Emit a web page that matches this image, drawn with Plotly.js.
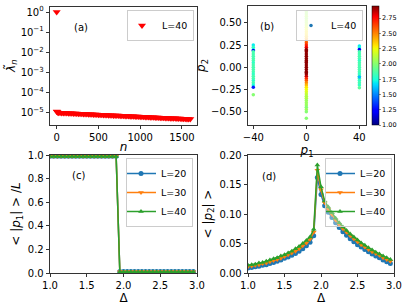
<!DOCTYPE html>
<html><head><meta charset="utf-8">
<script src="https://cdn.plot.ly/plotly-3.0.1.min.js"></script>
<style>html,body{margin:0;padding:0;background:#fff;}#plot{width:407px;height:306px;}</style>
</head><body><div id="plot"></div>
<script>
// ---------- panel (a) ----------
const nList = [0, 1, 5, 10, 20, 40, 60, 80, 100, 120, 140, 160, 180, 200, 220, 240, 260, 280, 300, 320, 340, 360, 380, 400,
  420, 440, 460, 480, 500, 520, 540, 560, 580, 600, 620, 640, 660, 680, 700, 720, 740, 760, 780, 800,
  820, 840, 860, 880, 900, 920, 940, 960, 980, 1000, 1020, 1040, 1060, 1080, 1100, 1120, 1140, 1160, 1180, 1200,
  1220, 1240, 1260, 1280, 1300, 1320, 1340, 1360, 1380, 1400, 1420, 1440, 1460, 1480, 1500, 1520, 1540, 1560, 1580, 1600];
const lambdaList = [1.0, 1.12e-5, 1.06e-5, 1.01e-5,
  9.60e-6, 9.51e-6, 9.42e-6, 9.34e-6, 9.25e-6, 9.17e-6, 9.08e-6, 9.00e-6, 8.92e-6, 8.83e-6,
  8.75e-6, 8.67e-6, 8.59e-6, 8.51e-6, 8.43e-6, 8.36e-6, 8.28e-6, 8.20e-6, 8.13e-6, 8.05e-6,
  7.98e-6, 7.91e-6, 7.83e-6, 7.76e-6, 7.69e-6, 7.62e-6, 7.55e-6, 7.48e-6, 7.41e-6, 7.34e-6,
  7.27e-6, 7.21e-6, 7.14e-6, 7.07e-6, 7.01e-6, 6.94e-6, 6.88e-6, 6.82e-6, 6.75e-6, 6.69e-6,
  6.63e-6, 6.57e-6, 6.51e-6, 6.45e-6, 6.39e-6, 6.33e-6, 6.27e-6, 6.21e-6, 6.16e-6, 6.10e-6,
  6.04e-6, 5.99e-6, 5.93e-6, 5.88e-6, 5.82e-6, 5.77e-6, 5.72e-6, 5.66e-6, 5.61e-6, 5.56e-6,
  5.51e-6, 5.46e-6, 5.41e-6, 5.36e-6, 5.31e-6, 5.26e-6, 5.21e-6, 5.16e-6, 5.12e-6, 5.07e-6,
  5.02e-6, 4.98e-6, 4.93e-6, 4.89e-6, 4.84e-6, 4.80e-6, 4.75e-6, 4.71e-6, 4.67e-6, 4.62e-6];
const logTickVals = [1, 0.1, 0.01, 0.001, 0.0001, 0.00001];
const logTickText = ['10<sup>0</sup>', '10<sup>−1</sup>', '10<sup>−2</sup>', '10<sup>−3</sup>', '10<sup>−4</sup>', '10<sup>−5</sup>'];

// ---------- panel (b) ----------
const p1Center = [0,0,0,0,0,0,0,0,0,0,0,0,0,0,0,0,0,0,0,0,0,0,0,0,0,0,0,0,0,0,0,0,0,0,0,0,0,0,0,0,0,0,0,0,0,0,0,0,0,0];
const p2Center = [0.625, 0.60, 0.575, 0.55, 0.525, 0.50, 0.475, 0.45, 0.425, 0.40, 0.375, 0.35, 0.325, 0.30, 0.275, 0.25,
  0.225, 0.20, 0.175, 0.15, 0.125, 0.10, 0.075, 0.05, 0.025, 0.0, -0.025, -0.05, -0.075, -0.10, -0.125, -0.15,
  -0.175, -0.20, -0.225, -0.25, -0.275, -0.30, -0.325, -0.35, -0.375, -0.40, -0.425, -0.45, -0.475, -0.50, -0.575,
  0.19, -0.06, 0.06];
const colorCenter = [2.05, 2.05, 2.1, 2.05, 2.1, 2.1, 2.15, 2.2, 2.25, 2.3, 2.3, 2.35, 2.4, 2.5, 2.6, 2.7,
  2.8, 2.9, 2.92, 2.93, 2.93, 2.93, 2.93, 2.93, 2.93, 2.93, 2.93, 2.93, 2.93, 2.85, 2.7, 2.6,
  2.5, 2.4, 2.3, 2.25, 2.2, 2.15, 2.1, 2.1, 2.05, 2.05, 2.05, 2.0, 2.05, 2.0, 2.0,
  2.93, 2.93, 2.93];
const p1Left = [-40,-40,-40,-40,-40,-40,-40,-40,-40,-40,-40,-40,-40,-40,-40,-40,-40,-40,-40,-40,-40,-40];
const p2Left = [0.25, 0.225, 0.20, 0.19, 0.175, 0.15, 0.125, 0.10, 0.075, 0.05, 0.025, 0.0, -0.025, -0.05, -0.075,
  -0.10, -0.125, -0.15, -0.175, -0.20, -0.225, -0.31];
const colorLeft = [1.7, 1.8, 1.75, 1.2, 1.85, 1.85, 1.85, 1.85, 1.85, 1.8, 1.85, 1.85, 1.85, 1.85, 1.8,
  1.85, 1.85, 1.8, 1.85, 1.75, 1.3, 2.0];
const p1Right = [40,40,40,40,40,40,40,40,40,40,40,40,40,40,40,40,40,40,40,40,40];
const p2Right = [0.24, 0.22, 0.20, 0.175, 0.15, 0.125, 0.10, 0.075, 0.05, 0.025, 0.0, -0.025, -0.05, -0.075,
  -0.10, -0.125, -0.15, -0.175, -0.20, -0.23, -0.11];
const colorRight = [1.7, 1.75, 1.2, 1.85, 1.85, 1.85, 1.85, 1.8, 1.85, 1.85, 1.85, 1.85, 1.85, 1.8,
  1.85, 1.85, 1.8, 1.85, 1.8, 1.9, 1.6];
const cbTickVals = [1.00, 1.25, 1.50, 1.75, 2.00, 2.25, 2.50, 2.75];

// ---------- panels (c), (d) ----------
const deltaList = [1.00, 1.05, 1.10, 1.15, 1.20, 1.25, 1.30, 1.35, 1.40, 1.45, 1.50, 1.55, 1.60, 1.65, 1.70, 1.75, 1.80, 1.85, 1.90, 1.95,
  2.00, 2.05, 2.10, 2.15, 2.20, 2.25, 2.30, 2.35, 2.40, 2.45, 2.50, 2.55, 2.60, 2.65, 2.70, 2.75, 2.80, 2.85, 2.90, 2.95];
const seriesNames = ['L=20', 'L=30', 'L=40'];
const p1L20 = [0.99, 0.99, 0.99, 0.99, 0.99, 0.99, 0.99, 0.99, 0.99, 0.99, 0.99, 0.99, 0.99, 0.99, 0.99, 0.99, 0.99, 0.99, 0.99,
  0.012, 0.012, 0.012, 0.012, 0.012, 0.012, 0.012, 0.012, 0.012, 0.012, 0.012, 0.012, 0.012, 0.012, 0.012, 0.012, 0.012, 0.012, 0.012, 0.012, 0.012, 0.012];
const p1L30 = [0.99, 0.99, 0.99, 0.99, 0.99, 0.99, 0.99, 0.99, 0.99, 0.99, 0.99, 0.99, 0.99, 0.99, 0.99, 0.99, 0.99, 0.99, 0.99,
  0.010, 0.010, 0.010, 0.010, 0.010, 0.010, 0.010, 0.010, 0.010, 0.010, 0.010, 0.010, 0.010, 0.010, 0.010, 0.010, 0.010, 0.010, 0.010, 0.010, 0.010, 0.010];
const p1L40 = [0.988, 0.988, 0.988, 0.988, 0.988, 0.988, 0.988, 0.988, 0.988, 0.988, 0.988, 0.988, 0.988, 0.988, 0.988, 0.988, 0.988, 0.988, 0.988,
  0.008, 0.008, 0.008, 0.008, 0.008, 0.008, 0.008, 0.008, 0.008, 0.008, 0.008, 0.008, 0.008, 0.008, 0.008, 0.008, 0.008, 0.008, 0.008, 0.008, 0.008, 0.008];
const p2L20 = [0.0085, 0.0095, 0.0105, 0.0115, 0.013, 0.014, 0.016, 0.018, 0.020, 0.022, 0.025, 0.027, 0.030, 0.033, 0.037, 0.041, 0.046, 0.052, 0.063, 0.162,
  0.133, 0.114, 0.103, 0.094, 0.085, 0.077, 0.070, 0.064, 0.058, 0.053, 0.048, 0.044, 0.040, 0.036, 0.032, 0.029, 0.026, 0.022, 0.019, 0.016];
const p2L30 = [0.011, 0.012, 0.013, 0.014, 0.016, 0.017, 0.019, 0.021, 0.023, 0.025, 0.028, 0.031, 0.034, 0.037, 0.041, 0.046, 0.051, 0.057, 0.069, 0.174,
  0.141, 0.119, 0.108, 0.099, 0.090, 0.082, 0.075, 0.069, 0.063, 0.058, 0.053, 0.048, 0.044, 0.040, 0.036, 0.033, 0.030, 0.026, 0.023, 0.020];
const p2L40 = [0.013, 0.014, 0.015, 0.017, 0.018, 0.020, 0.022, 0.024, 0.026, 0.029, 0.031, 0.034, 0.037, 0.041, 0.045, 0.050, 0.055, 0.061, 0.074, 0.183,
  0.146, 0.122, 0.112, 0.102, 0.093, 0.085, 0.078, 0.072, 0.066, 0.061, 0.056, 0.051, 0.047, 0.043, 0.039, 0.035, 0.032, 0.029, 0.026, 0.023];

const colors = ['#1f77b4', '#ff7f0e', '#2ca02c'];
const symbols = ['circle', 'triangle-down', 'triangle-up'];

const jet = [[0,'rgb(0,0,128)'],[0.11,'rgb(0,0,255)'],[0.125,'rgb(0,0,255)'],[0.34,'rgb(0,219,255)'],[0.35,'rgb(0,229,247)'],
  [0.375,'rgb(20,255,226)'],[0.64,'rgb(238,255,8)'],[0.66,'rgb(255,236,0)'],[0.89,'rgb(255,19,0)'],[0.91,'rgb(255,0,0)'],[1,'rgb(128,0,0)']];

const W = 407, H = 306;
const px = v => v / W;
const py = v => (H - v) / H;

const traces = [];
traces.push({x: nList, y: lambdaList, xaxis: 'x', yaxis: 'y', mode: 'markers', name: 'L=40', legend: 'legend',
  marker: {symbol: 'triangle-down', color: 'red', size: 7, line: {width: 0}}});

const allP1 = p1Center.concat(p1Left, p1Right);
const allP2 = p2Center.concat(p2Left, p2Right);
const allC = colorCenter.concat(colorLeft, colorRight);
traces.push({x: allP1, y: allP2, xaxis: 'x2', yaxis: 'y2', mode: 'markers', showlegend: false,
  marker: {size: 3.5, color: allC, colorscale: jet, cmin: 1.0, cmax: 2.95, line: {width: 0},
    colorbar: {x: px(372), xanchor: 'left', y: py(6), yanchor: 'top', len: (125 - 6) / H, lenmode: 'fraction',
      thickness: 7, outlinewidth: 0.5, outlinecolor: '#000', xpad: 0, ypad: 0,
      tickvals: cbTickVals, tickformat: '.2f', ticks: 'outside', ticklen: 2, tickwidth: 0.6,
      tickfont: {size: 6.5, color: '#000'}}}});
traces.push({x: [null], y: [null], xaxis: 'x2', yaxis: 'y2', mode: 'markers', name: 'L=40', legend: 'legend2',
  marker: {color: '#1f77b4', size: 3.5}});

const cSeries = [p1L20, p1L30, p1L40];
const dSeries = [p2L20, p2L30, p2L40];
for (let i = 0; i < 3; i++) {
  traces.push({x: deltaList, y: cSeries[i], xaxis: 'x3', yaxis: 'y3', mode: 'lines+markers', name: seriesNames[i], legend: 'legend3',
    line: {color: colors[i], width: 1.5}, marker: {symbol: symbols[i], color: colors[i], size: 5, line: {width: 0}}});
}
for (let i = 0; i < 3; i++) {
  traces.push({x: deltaList, y: dSeries[i], xaxis: 'x4', yaxis: 'y4', mode: 'lines+markers', name: seriesNames[i], legend: 'legend4',
    line: {color: colors[i], width: 1.5}, marker: {symbol: symbols[i], color: colors[i], size: 5, line: {width: 0}}});
}

const axBase = {showline: true, mirror: true, linecolor: '#000', linewidth: 0.8, ticks: 'outside', ticklen: 3.5, tickwidth: 0.8,
  tickcolor: '#000', showgrid: false, zeroline: false, tickfont: {size: 10, color: '#000'}};
const titleFont = {size: 12, color: '#000'};
const legBase = {bgcolor: 'rgba(255,255,255,0.8)', bordercolor: '#cccccc', borderwidth: 1, font: {size: 9.5, color: '#000'},
  xanchor: 'right', yanchor: 'top', itemwidth: 30, tracegroupgap: 0, indentation: -6};

const layout = {
  width: W, height: H, margin: {l: 0, r: 0, t: 0, b: 0}, paper_bgcolor: '#fff', plot_bgcolor: '#fff',
  font: {family: 'DejaVu Sans', size: 10, color: '#000'},
  xaxis: Object.assign({}, axBase, {domain: [px(50), px(197)], range: [-80, 1680], anchor: 'y', tickvals: [0, 500, 1000, 1500],
    title: {text: '<i>n</i>', font: titleFont, standoff: 0}}),
  yaxis: Object.assign({}, axBase, {domain: [py(125), py(6.5)], type: 'log', range: [-5.63, 0.28], anchor: 'x',
    tickvals: logTickVals, ticktext: logTickText, title: {text: '<i>λ̃</i><sub><i>n</i></sub>', font: titleFont, standoff: 2}}),
  xaxis2: Object.assign({}, axBase, {domain: [px(248), px(366)], range: [-44, 45], anchor: 'y2', tickvals: [-40, 0, 40],
    title: {text: '<i>p</i><sub>1</sub>', font: titleFont, standoff: 0}}),
  yaxis2: Object.assign({}, axBase, {domain: [py(125), py(6)], range: [-0.65, 0.69], anchor: 'x2',
    tickvals: [-0.5, -0.25, 0, 0.25, 0.5], tickformat: '.2f', title: {text: '<i>p</i><sub>2</sub>', font: titleFont, standoff: 2}}),
  xaxis3: Object.assign({}, axBase, {domain: [px(50), px(197)], range: [1, 3], anchor: 'y3', dtick: 0.5, tick0: 1, tickformat: '.1f',
    title: {text: 'Δ', font: titleFont, standoff: 2}}),
  yaxis3: Object.assign({}, axBase, {domain: [py(273), py(155)], range: [0, 1], anchor: 'x3', dtick: 0.2, tickformat: '.1f',
    title: {text: '&lt; |<i>p</i><sub>1</sub>| &gt; /<i>L</i>', font: titleFont, standoff: 4}}),
  xaxis4: Object.assign({}, axBase, {domain: [px(248), px(394)], range: [1, 3], anchor: 'y4', dtick: 0.5, tick0: 1, tickformat: '.1f',
    title: {text: 'Δ', font: titleFont, standoff: 2}}),
  yaxis4: Object.assign({}, axBase, {domain: [py(273), py(155)], range: [0, 0.2], anchor: 'x4', dtick: 0.05, tickformat: '.2f',
    title: {text: '&lt; |<i>p</i><sub>2</sub>| &gt;', font: titleFont, standoff: 4}}),
  legend: Object.assign({}, legBase, {x: px(194), y: py(10)}),
  legend2: Object.assign({}, legBase, {x: px(363), y: py(10)}),
  legend3: Object.assign({}, legBase, {x: px(193), y: py(158)}),
  legend4: Object.assign({}, legBase, {x: px(392), y: py(158), bgcolor: 'rgba(255,255,255,0.35)'}),
  annotations: [
    {text: '(a)', x: px(71.5), y: py(20), xref: 'paper', yref: 'paper', showarrow: false, font: {size: 10}},
    {text: '(b)', x: px(267), y: py(19), xref: 'paper', yref: 'paper', showarrow: false, font: {size: 10}},
    {text: '(c)', x: px(70), y: py(175), xref: 'paper', yref: 'paper', showarrow: false, font: {size: 10}},
    {text: '(d)', x: px(269), y: py(177), xref: 'paper', yref: 'paper', showarrow: false, font: {size: 10}}
  ]
};

Plotly.newPlot('plot', traces, layout, {displayModeBar: false, staticPlot: true});
</script></body></html>
